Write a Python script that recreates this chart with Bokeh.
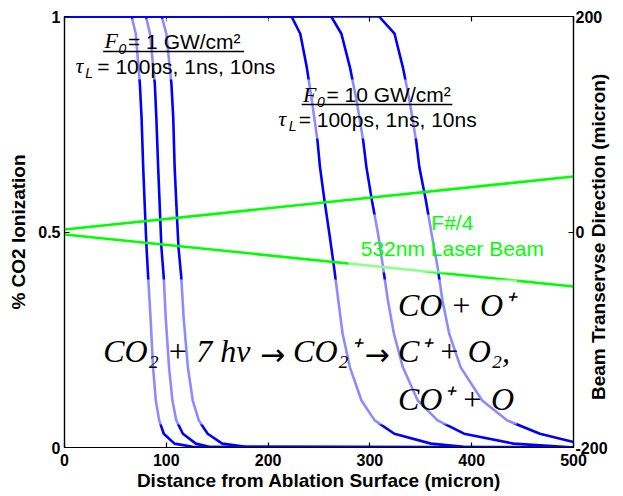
from math import pi

from bokeh.plotting import figure
from bokeh.models import (Range1d, LinearAxis, FixedTicker, NumeralTickFormatter,
                          Label, BoxAnnotation)
from bokeh.embed import file_html
from bokeh.resources import INLINE

# ---------------- data ----------------
x_ticks = [0, 100, 200, 300, 400, 500]
y_left_ticks = [0, 0.5, 1]
y_right_ticks = [-200, 0, 200]

# F0 = 1 GW/cm2 : ionisation fraction levels and distances (micron)
lvl_1gw = [1, 1, 0.96, 0.845, 0.766, 0.65, 0.534, 0.464, 0.395, 0.302,
           0.186, 0.109, 0.063, 0.032, 0.009, 0.0015, 0]
x_1gw_100ps = [0, 66, 70, 74, 75.7, 77.3, 79.3, 80.6, 82.2, 84.5,
               87, 89.7, 93, 97.5, 108, 126, 500]
x_1gw_1ns = [0, 80, 84, 88.7, 90.2, 92, 94, 95.2, 97.5, 99.4,
             102.7, 106, 109.8, 116.3, 129, 142, 500]
x_1gw_10ns = [0, 95.5, 100, 105, 106.8, 108.2, 110.5, 112, 114.7, 117,
              121.2, 126, 131.9, 140.6, 155, 178, 500]

# F0 = 10 GW/cm2
lvl_10gw = [1, 1, 0.96, 0.882, 0.805, 0.712, 0.65, 0.573, 0.496, 0.418,
            0.341, 0.264, 0.186, 0.109, 0.063, 0.032, 0.009, 0.0015, 0]
x_10gw_100ps = [0, 223, 231.6, 238, 243, 248.5, 251, 255.4, 260.2, 264.8,
                269, 273.2, 280.4, 291.7, 304.7, 324, 360, 392, 500]
x_10gw_1ns = [0, 262, 272, 280.4, 286.9, 293.4, 296.6, 302, 308, 312.9,
              317.7, 323.6, 332.4, 347, 366.5, 392.5, 441, 490, 500]
lvl_10gw_10ns = [1, 1, 0.96, 0.882, 0.805, 0.712, 0.65, 0.573, 0.496, 0.418,
                 0.341, 0.264, 0.186, 0.109, 0.063, 0.032, 0.013]
x_10gw_10ns = [0, 309, 324.2, 332.4, 338.9, 345.4, 348.6, 355, 360.6, 366.5,
               371.3, 377.9, 389.2, 410.3, 434.7, 467, 500]

# F#/4 532 nm beam envelope (transverse micron)
beam_x = [0, 500]
beam_upper = [2.3, 51.5]
beam_lower = [-2.3, -50.6]

# ---------------- figure ----------------
p = figure(width=622, height=495, x_range=Range1d(0, 500), y_range=Range1d(0, 1),
           output_backend="svg", toolbar_location=None,
           min_border_left=64, min_border_right=45, min_border_top=16, min_border_bottom=48)
p.extra_y_ranges = {"beam": Range1d(-200, 200)}
p.grid.visible = False
p.outline_line_color = "black"
p.outline_line_width = 1.2
p.background_fill_color = "white"
p.border_fill_color = "white"

FONT = "Liberation Sans"
SERIF = "Liberation Serif"


def style_axis(ax):
    ax.major_tick_in = 5
    ax.major_tick_out = 0
    ax.minor_tick_in = 0
    ax.minor_tick_out = 0
    ax.axis_line_color = "black"
    ax.axis_line_width = 1.2
    ax.major_tick_line_color = "black"
    ax.major_tick_line_width = 1.2
    ax.major_label_text_font = FONT
    ax.major_label_text_font_style = "bold"
    ax.major_label_text_font_size = "16px"
    ax.major_label_text_color = "black"
    ax.axis_label_text_font = FONT
    ax.axis_label_text_font_style = "bold"
    ax.axis_label_text_font_size = "19px"
    ax.axis_label_text_color = "black"


xa = p.xaxis[0]
style_axis(xa)
xa.ticker = FixedTicker(ticks=x_ticks)
xa.formatter = NumeralTickFormatter(format="0")
xa.axis_label = "Distance from Ablation Surface (micron)"
xa.major_label_standoff = 6
xa.axis_label_standoff = 1

ya = p.yaxis[0]
style_axis(ya)
ya.ticker = FixedTicker(ticks=y_left_ticks)
ya.formatter = NumeralTickFormatter(format="0.[0]")
ya.axis_label = "% CO2 Ionization"
ya.major_label_standoff = 4
ya.axis_label_standoff = 6

top = LinearAxis(ticker=FixedTicker(ticks=x_ticks))
style_axis(top)
top.major_label_text_font_size = "0px"
top.major_label_text_color = None
top.major_label_standoff = 0
top.axis_line_color = None
p.add_layout(top, "above")

# right axis: ticks and tick labels
right = LinearAxis(y_range_name="beam", ticker=FixedTicker(ticks=y_right_ticks),
                   formatter=NumeralTickFormatter(format="0"))
style_axis(right)
right.major_label_standoff = 2
p.add_layout(right, "right")

# right axis title, reading bottom to top
RIGHT_TITLE = "Beam Transervse Direction (micron)"
rtitle = LinearAxis(y_range_name="beam", ticker=FixedTicker(ticks=[]))
style_axis(rtitle)
rtitle.major_tick_in = 0
rtitle.major_label_text_font_size = "0px"
rtitle.major_label_text_color = None
rtitle.major_label_standoff = 0
rtitle.axis_line_color = None
rtitle.axis_label_standoff = -12
props = rtitle.properties()
if "axis_label_orientation" in props and "axis_label_align" in props:
    rtitle.axis_label_orientation = pi / 2
    rtitle.axis_label_align = "start"
    rtitle.axis_label = "\u00a0" * 9 + RIGHT_TITLE
else:
    rtitle.axis_label = RIGHT_TITLE
p.add_layout(rtitle, "right")

# ---------------- glyphs ----------------
BLUE = "#0000ff"
GREEN = "#00ff00"
for xs, ys in [(x_1gw_100ps, lvl_1gw), (x_1gw_1ns, lvl_1gw), (x_1gw_10ns, lvl_1gw),
               (x_10gw_100ps, lvl_10gw), (x_10gw_1ns, lvl_10gw),
               (x_10gw_10ns, lvl_10gw_10ns)]:
    p.line(xs, ys, line_color=BLUE, line_width=2.6)

p.line(beam_x, beam_upper, y_range_name="beam", line_color=GREEN, line_width=2.6)
p.line(beam_x, beam_lower, y_range_name="beam", line_color=GREEN, line_width=2.6)

# ---------------- semi-transparent text boxes ----------------
for l, r, b, t in [(2, 212.5, 0.854, 0.995), (202.7, 417.2, 0.717, 0.854),
                   (278.8, 471.7, 0.406, 0.5406), (33.1, 444.4, 0.0534, 0.3898)]:
    p.add_layout(BoxAnnotation(left=l, right=r, bottom=b, top=t, fill_color="white",
                               fill_alpha=0.55, line_color=None))

# underlines
for l, r, y in [(38, 176.4, 0.9188), (233, 381, 0.7958)]:
    p.add_layout(BoxAnnotation(left=l, right=r, bottom=y - 0.0018, top=y + 0.0018,
                               fill_color="black", fill_alpha=1, line_color=None))


def lab(text, x, y, size, font=FONT, style="normal", color="black", align="left"):
    p.add_layout(Label(x=x, y=y, text=text, text_font=font, text_font_style=style,
                       text_font_size=f"{size}px", text_color=color, text_align=align,
                       text_baseline="middle"))


# F0 = 1 GW/cm2 annotation
lab("F", 52.6, 0.9436, 22, font=SERIF, style="italic", align="right")
lab("0", 53.0, 0.9255, 14, style="italic")
lab("= 1 GW/cm\u00b2", 62.4, 0.9428, 21)
lab("\u03c4", 18.5, 0.8856, 22, font=SERIF, style="italic", align="right")
lab("L", 20.5, 0.8698, 14, style="italic")
lab("= 100ps, 1ns, 10ns", 32.2, 0.8848, 21)

# F0 = 10 GW/cm2 annotation
lab("F", 247.6, 0.819, 22, font=SERIF, style="italic", align="right")
lab("0", 248.0, 0.8014, 14, style="italic")
lab("= 10 GW/cm\u00b2", 257.3, 0.8182, 21)
lab("\u03c4", 217.8, 0.7626, 22, font=SERIF, style="italic", align="right")
lab("L", 220.3, 0.7469, 14, style="italic")
lab("= 100ps, 1ns, 10ns", 230.0, 0.7618, 21)

# beam annotation
lab("F#/4", 381.0, 0.5229, 21, color=GREEN, align="center")
lab("532nm Laser Beam", 381.0, 0.4625, 21, color=GREEN, align="center")

# reaction equation
lab("CO + O\u207a", 327.5, 0.330, 32, font=SERIF, style="italic")
lab("CO\u2082 + 7 h\u03bd", 38.0, 0.2232, 32, font=SERIF, style="italic")
lab("\u2192", 204.5, 0.2158, 30, font="DejaVu Sans", align="center")
lab("CO\u2082\u207a", 224.5, 0.2232, 32, font=SERIF, style="italic")
lab("\u2192", 307.0, 0.2158, 30, font="DejaVu Sans", align="center")
lab("C\u207a + O\u2082,", 327.5, 0.2232, 32, font=SERIF, style="italic")
lab("CO\u207a + O", 327.5, 0.1118, 32, font=SERIF, style="italic")

open("out.html", "w").write(file_html(p, INLINE))
